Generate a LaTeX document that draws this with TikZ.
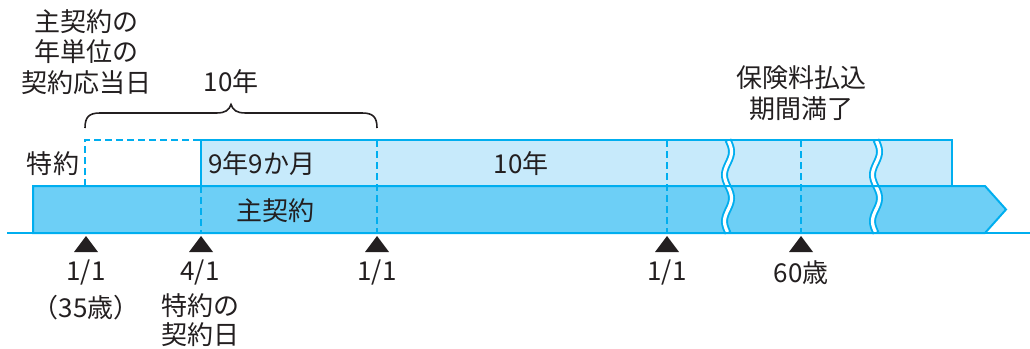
\documentclass[tikz,border=0pt]{standalone}
\usepackage{fontspec}
\setmainfont{Noto Sans CJK JP}
\usetikzlibrary{positioning}
\definecolor{lineblue}{HTML}{00AEEF}
\definecolor{mainblue}{HTML}{6DCFF6}
\definecolor{riderblue}{HTML}{C7EAFB}
\definecolor{ink}{HTML}{231F20}
\tikzset{
	lbl/.style = {text = ink, inner sep = 0, font = \fontsize{26}{30.5}\selectfont, align = center},
	dashline/.style = {lineblue, line width = 2, dash pattern = on 7 off 4},
	wavebreak/.style = {line width = 7, lineblue},
	wavegap/.style = {line width = 3.2, white}
}
\begin{document}
\begin{tikzpicture}[x = 1pt, y = -1pt]
	\useasboundingbox (0, 0) rectangle (1030, 348);
	\coordinate (mainA) at (33, 186);
	\coordinate (mainB) at (985, 186);
	\coordinate (mainTip) at (1006, 209.5);
	\coordinate (mainC) at (985, 233);
	\coordinate (mainD) at (33, 233);
	\fill [mainblue] (mainA) -- (mainB) -- (mainTip) -- (mainC) -- (mainD) -- cycle;
	\fill [riderblue] (201, 140) rectangle (952, 186);
	\foreach \w in {728, 876}{
		\draw [wavebreak] plot [domain = 140:233, samples = 60, smooth] ({\w + 3.5*sin((\x - 140)*7.742)}, \x);
		\draw [wavegap] plot [domain = 141:232, samples = 60, smooth] ({\w + 3.5*sin((\x - 140)*7.742)}, \x);
	};
	\draw [lineblue, line width = 2] (mainA) -- (mainB) -- (mainTip) -- (mainC) -- (mainD) -- cycle;
	\draw [lineblue, line width = 2] (201, 140) rectangle (952, 186);
	\draw [lineblue, line width = 2.5] (7, 233) -- (1030, 233);
	\draw [dashline] (85, 186) -- (85, 140) -- (201, 140);
	\draw [dashline] (201, 186) -- (201, 233);
	\foreach \i in {377, 667, 801}{
		\draw [dashline] (\i, 140) -- (\i, 233);
	};
	\foreach \i/\n in {86/a, 201/b, 377/c, 667/d, 801/e}{
		\fill [ink] (\i - 12, 252) -- (\i + 12, 252) -- (\i, 236) -- cycle;
	};
	\draw [ink, line width = 1.6] (85, 128) .. controls (85, 117) and (89, 113) .. (100, 113) -- (216, 113) .. controls (226, 113) and (229, 110) .. (231, 104.5) .. controls (233, 110) and (236, 113) .. (246, 113) -- (362, 113) .. controls (373, 113) and (377, 117) .. (377, 128);
	\node [lbl] (anniv) at (86, 52) {主契約の\\年単位の\\契約応当日};
	\node [lbl] (tenyears) at (231, 82) {10年};
	\node [lbl] (premend) at (801, 93) {保険料払込\\期間満了};
	\node [lbl] (rider) at (53, 164) {特約};
	\node [lbl, anchor = west] (ninenine) at (208, 164) {9年9か月};
	\node [lbl] (tenrider) at (521, 164) {10年};
	\node [lbl] (main) at (275, 211) {主契約};
	\node [lbl] (dateA) at (86, 273) {1/1};
	\node [lbl, below = 9pt of dateA.south] (age) {（35歳）};
	\node [lbl] (dateB) at (200, 273) {4/1};
	\node [lbl, font = \fontsize{26}{29}\selectfont, align = left, below = 8pt of dateB.south] (riderday) {特約の\\契約日};
	\node [lbl] (dateC) at (377, 273) {1/1};
	\node [lbl] (dateD) at (667, 273) {1/1};
	\node [lbl] (sixty) at (801, 273) {60歳};
\end{tikzpicture}
\end{document}
